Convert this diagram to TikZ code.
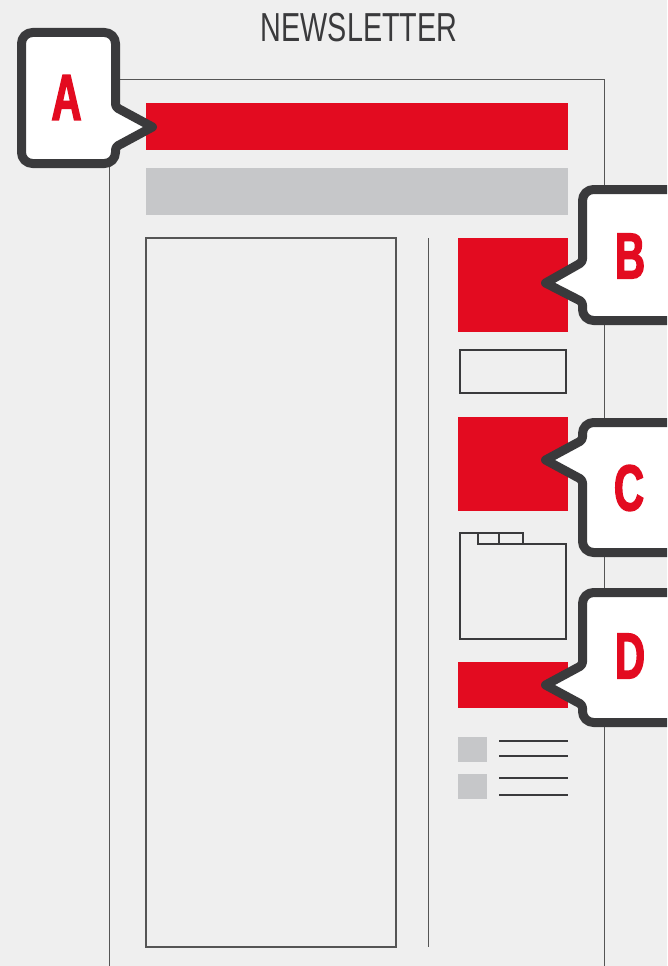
\documentclass[tikz,border=0pt]{standalone}
\usepackage{fontspec}
\newfontfamily\titlefont[FakeStretch=0.71]{Liberation Sans}
\newfontfamily\letterfont[FakeStretch=0.64, FakeBold=2.2]{Liberation Sans Bold}
\definecolor{bg}{HTML}{EFEFEF}
\definecolor{nred}{HTML}{E30B20}
\definecolor{ngray}{HTML}{C6C7C9}
\definecolor{ndark}{HTML}{3A3A3C}
\definecolor{nline}{HTML}{555555}
\tikzset{
  redbox/.style={fill=nred, draw=none},
  graybox/.style={fill=ngray, draw=none},
  outlinebox/.style={draw=ndark, line width=1.3pt, fill=none},
  callout/.style={draw=ndark, fill=white, line width=9pt, line join=round},
  calletter/.style={font=\letterfont\fontsize{65}{65}\selectfont, text=nred, inner sep=0pt},
  textline/.style={draw=ndark, line width=2.5pt},
}
\begin{document}
\begin{tikzpicture}[x=1pt,y=-1pt]
\useasboundingbox (0,0) rectangle (667,966);
\fill[bg] (0,0) rectangle (667,966);
\clip (0,0) rectangle (667,966);
% title
\node[font=\titlefont\fontsize{40.5}{40}\selectfont, text=ndark, inner sep=0pt, anchor=base] (title) at (359,42) {NEWSLETTER};
% page outline
\draw[nline, line width=1pt] (109,980) -- (109,79) -- (604,79) -- (604,980);
% header bars
\fill[redbox] (146,103) rectangle (568,150);
\fill[graybox] (146,168) rectangle (568,215);
% main column
\draw[nline, line width=1.3pt] (146,238) rectangle (396,947);
% divider
\draw[nline, line width=1pt] (428,238) -- (428,947);
% right column
\fill[redbox] (458,238) rectangle (568,332);
\draw[outlinebox, line width=2pt] (460,350) rectangle (566,393);
\fill[redbox] (458,417) rectangle (568,511);
% folder
\draw[ndark, line width=2pt, line join=miter] (460,639) -- (460,533) -- (523,533) -- (523,544) -- (566,544) -- (566,639) -- cycle;
\draw[ndark, line width=2pt] (478,533) -- (478,544) -- (523,544);
\draw[ndark, line width=2pt] (499,533) -- (499,544);
\fill[redbox] (458,662) rectangle (568,708);
% list items
\fill[graybox] (458,737) rectangle (487,762);
\fill[graybox] (458,774) rectangle (487,799);
\draw[textline] (499,741) -- (568,741);
\draw[textline] (499,756) -- (568,756);
\draw[textline] (499,778) -- (568,778);
\draw[textline] (499,795) -- (568,795);
% callout A
\draw[callout] (68,32.5) [rounded corners=11] -- (115.5,32.5) [rounded corners=3] -- (115.5,107) [sharp corners] -- (152.5,127) [rounded corners=3] -- (115.5,147) [rounded corners=11] -- (115.5,163.5) -- (21.5,163.5) -- (21.5,32.5) -- cycle;
\node[calletter] (la) at (66.5,97.5) {A};
% callout B
\draw[callout] (640,189.5) [rounded corners=11] -- (582.5,189.5) [rounded corners=3] -- (582.5,262) [sharp corners] -- (545.5,283) [rounded corners=3] -- (582.5,302) [rounded corners=11] -- (582.5,320.5) -- (700,320.5) -- (700,189.5) -- cycle;
\node[calletter] (lb) at (630,256) {B};
% callout C
\draw[callout] (640,422.5) [rounded corners=11] -- (582.5,422.5) [rounded corners=3] -- (582.5,440) [sharp corners] -- (545.5,460) [rounded corners=3] -- (582.5,480) [rounded corners=11] -- (582.5,552.5) -- (700,552.5) -- (700,422.5) -- cycle;
\node[calletter] (lc) at (629,488) {C};
% callout D
\draw[callout] (640,592.5) [rounded corners=11] -- (582.5,592.5) [rounded corners=3] -- (582.5,665) [sharp corners] -- (545.5,685) [rounded corners=3] -- (582.5,705) [rounded corners=11] -- (582.5,722.5) -- (700,722.5) -- (700,592.5) -- cycle;
\node[calletter] (ld) at (630,656) {D};
\end{tikzpicture}
\end{document}
